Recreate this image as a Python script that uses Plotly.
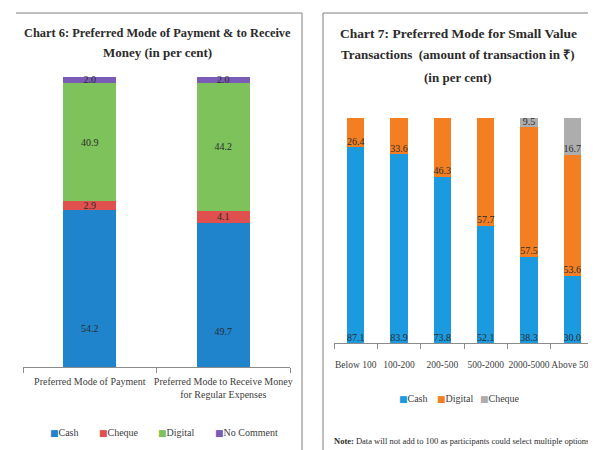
import plotly.graph_objects as go

# ---- Chart 6 data ----
c6_categories = ["Preferred Mode of Payment",
                 "Preferred Mode to Receive Money<br>for Regular Expenses"]
c6_cash = [54.2, 49.7]
c6_cheque = [2.9, 4.1]
c6_digital = [40.9, 44.2]
c6_nocomment = [2.0, 2.0]

# ---- Chart 7 data ----
c7_categories = ["Below 100", "100-200", "200-500", "500-2000", "2000-5000", "Above 500"]
c7_cash = [87.1, 83.9, 73.8, 52.1, 38.3, 30.0]
c7_digital = [26.4, 33.6, 46.3, 57.7, 57.5, 53.6]
c7_cheque = [None, None, None, None, 9.5, 16.7]

# The page body adds an 8px margin, so the figure is laid out in page pixels minus it
OFF = 8
W, H = 596 - OFF, 450 - OFF


def px2x(px):
    return (px - OFF) / W


def py2y(py):
    return 1 - (py - OFF) / H


SERIF = "Liberation Serif"
LBL = dict(family=SERIF, size=10, color="#2b2b2b")

fig = go.Figure()

# ---------------- Chart 6 ----------------
c6_series = [("Cash", c6_cash, "#1f84cc"),
             ("Cheque", c6_cheque, "#e0504e"),
             ("Digital", c6_digital, "#7dc25b"),
             ("No Comment", c6_nocomment, "#7a5cb6")]
for name, vals, col in c6_series:
    fig.add_trace(go.Bar(
        x=c6_categories, y=vals, name=name, marker=dict(color=col, line=dict(width=0)),
        text=None if name == "Cash" else [f"{v:.1f}" for v in vals],
        textposition="inside", insidetextanchor="middle", textangle=0,
        textfont=LBL, constraintext="none", cliponaxis=False,
        xaxis="x", yaxis="y", showlegend=False, hoverinfo="skip"))

# Cash labels of chart 6 sit in the lower part of the segment
fig.add_trace(go.Scatter(
    x=c6_categories, y=[v * 0.24 for v in c6_cash], mode="text",
    text=[f"{v:.1f}" for v in c6_cash], textfont=LBL, showlegend=False,
    hoverinfo="skip", xaxis="x", yaxis="y", cliponaxis=False))

# ---------------- Chart 7 ----------------
c7_series = [("Cash", c7_cash, "#1b9ae0"),
             ("Digital", c7_digital, "#f47f22"),
             ("Cheque", c7_cheque, "#adadad")]
for name, vals, col in c7_series:
    fig.add_trace(go.Bar(
        x=c7_categories, y=vals, name=name, marker=dict(color=col, line=dict(width=0)),
        xaxis="x2", yaxis="y2", showlegend=False, hoverinfo="skip"))

# Labels placed near the base of each segment (Excel "inside base")
bases_cash = [0 for _ in c7_cash]
bases_dig = list(c7_cash)
bases_chq = [c + d for c, d in zip(c7_cash, c7_digital)]
for vals, bases in [(c7_cash, bases_cash), (c7_digital, bases_dig), (c7_cheque, bases_chq)]:
    xs, ys, ts = [], [], []
    for cat, v, b in zip(c7_categories, vals, bases):
        if v is None:
            continue
        xs.append(cat)
        ys.append(b)
        ts.append(f"{v:.1f}")
    fig.add_trace(go.Scatter(
        x=xs, y=ys, mode="text", text=ts, textposition="top center",
        textfont=LBL, showlegend=False, hoverinfo="skip",
        xaxis="x2", yaxis="y2", cliponaxis=False))

axis_common = dict(showline=True, linecolor="#8c8c8c", linewidth=1,
                   ticks="outside", tickson="boundaries", ticklen=5, tickcolor="#8c8c8c",
                   showgrid=False, zeroline=False, fixedrange=True,
                   tickangle=0, automargin=False)

fig.update_layout(
    width=W, height=H,
    margin=dict(l=0, r=0, t=0, b=0, autoexpand=False),
    paper_bgcolor="white", plot_bgcolor="white",
    barmode="stack", bargap=0.6,
    showlegend=False,
    xaxis=dict(domain=[px2x(23), px2x(290)], anchor="y", ticklabelstandoff=5,
               tickfont=dict(family=SERIF, size=10, color="#404040"), **axis_common),
    yaxis=dict(domain=[py2y(367), py2y(77)], range=[0, 100], visible=False, fixedrange=True),
    xaxis2=dict(domain=[px2x(334), px2x(594)], anchor="y2", ticklabelstandoff=13,
                tickfont=dict(family=SERIF, size=9.5, color="#404040"), **axis_common),
    yaxis2=dict(domain=[py2y(343), py2y(118)], range=[0, 100], visible=False, fixedrange=True),
)

# Titles
titles = [
    (157, 33, "<b>Chart 6: Preferred Mode of Payment &amp; to Receive</b>", 12.4),
    (157, 53, "<b>Money (in per cent)</b>", 13),
    (458, 33, "<b>Chart 7: Preferred Mode for Small Value</b>", 13.5),
    (458, 55, "<b>Transactions  (amount of transaction in ₹)</b>", 13),
    (458, 77, "<b>(in per cent)</b>", 13),
]
for px, py, txt, fs in titles:
    fig.add_annotation(x=px2x(px), y=py2y(py), xref="paper", yref="paper",
                       text=txt, showarrow=False, xanchor="center", yanchor="middle",
                       font=dict(family=SERIF, size=fs, color="#2b2b2b"))

# Legends (square marker + label)
legend_items = [
    (48, 432, "Cash", "#1f84cc"), (97, 432, "Cheque", "#e0504e"),
    (156, 432, "Digital", "#7dc25b"), (213, 432, "No Comment", "#7a5cb6"),
    (397, 398, "Cash", "#1b9ae0"), (435, 398, "Digital", "#f47f22"),
    (478, 398, "Cheque", "#adadad"),
]
for px, py, name, col in legend_items:
    fig.add_annotation(x=px2x(px), y=py2y(py), xref="paper", yref="paper",
                       text=f'<span style="color:{col};font-family:DejaVu Sans;font-size:9px">■</span>{name}',
                       showarrow=False, xanchor="left", yanchor="middle",
                       font=dict(family=SERIF, size=10, color="#404040"))

# Note
fig.add_annotation(x=px2x(332), y=py2y(441), xref="paper", yref="paper",
                   text="<b>Note:</b> Data will not add to 100 as participants could select multiple options.",
                   showarrow=False, xanchor="left", yanchor="middle",
                   font=dict(family=SERIF, size=8.5, color="#2b2b2b"))

# Frame lines
line = dict(color="#7f7f7f", width=1)
for x0, y0, x1, y1 in [(16, 13, 302, 13), (302, 13, 302, 450),
                       (323, 13, 323, 450), (323, 13, 596, 13)]:
    fig.add_shape(type="line", xref="paper", yref="paper",
                  x0=px2x(x0), x1=px2x(x1), y0=py2y(y0), y1=py2y(y1), line=line)

fig.write_html("out.html")
